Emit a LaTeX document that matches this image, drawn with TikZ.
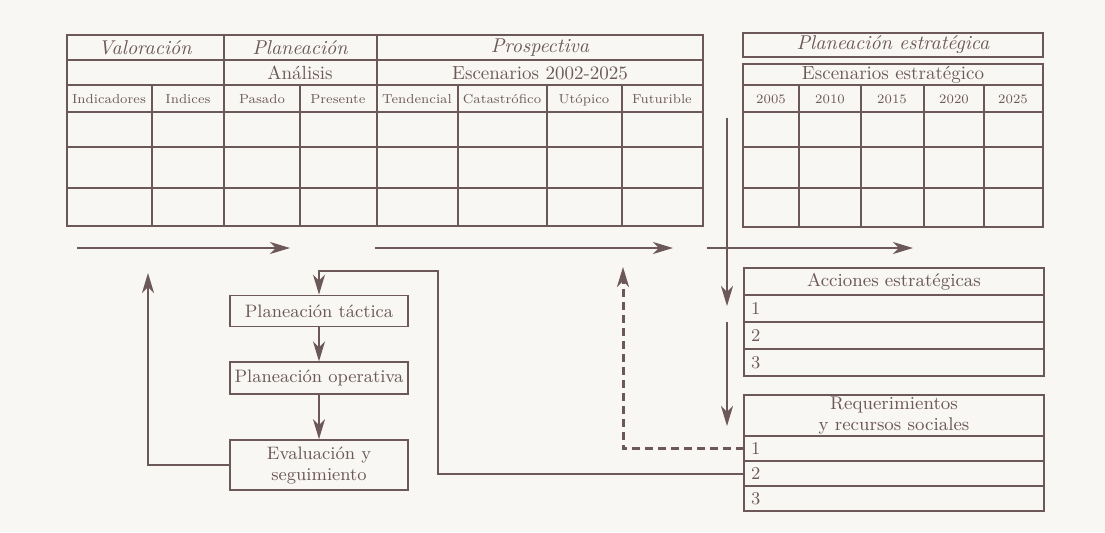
\documentclass[tikz,border=0pt]{standalone}
\usepackage{tikz}
\usetikzlibrary{arrows.meta,positioning}
\definecolor{ink}{RGB}{108,88,88}
\definecolor{paper}{RGB}{248,247,243}

\tikzset{
  head/.style={font=\fontsize{10}{11}\selectfont\itshape, inner sep=0pt},
  sub/.style={font=\fontsize{9.5}{10}\selectfont, inner sep=0pt},
  colhead/.style={font=\fontsize{6.5}{7.5}\selectfont, inner sep=0pt, anchor=base},
  box/.style={draw, minimum width=89pt, align=center, inner sep=1pt,
    font=\fontsize{9}{10.5}\selectfont},
  rowhead/.style={draw, minimum width=150pt, align=center, inner sep=1pt,
    outer sep=0pt, font=\fontsize{9.2}{10.5}\selectfont},
  rowcell/.style={draw, minimum width=150pt, text width=143pt, align=left,
    inner xsep=3pt, inner ysep=0pt, outer sep=0pt, font=\fontsize{9}{10}\selectfont},
  flow/.style={line width=0.8pt, -{Stealth[length=10pt,width=6pt,inset=3pt]}},
  dashline/.style={line width=1.5pt, dash pattern=on 4pt off 2.5pt}
}

\begin{document}
\begin{tikzpicture}[x=0.5pt, y=-0.5pt, line width=0.9pt, color=ink]
  \fill[paper] (0,0) rectangle (1105,532);

  % valoracion, planeacion, prospectiva
  \draw (67,35) rectangle (703,226)
    (67,60) -- (703,60) (67,85) -- (703,85) (67,112) -- (703,112)
    (67,147) -- (703,147) (67,188) -- (703,188)
    (224,35) -- (224,226) (377,35) -- (377,226)
    (152,85) -- (152,226) (300,85) -- (300,226)
    (458,85) -- (458,226) (547,85) -- (547,226) (622,85) -- (622,226);
  \node[head] (valoracion) at (145,48) {Valoración};
  \node[head] (planeacion) at (300,48) {Planeación};
  \node[head] (prospectiva) at (540,48) {Prospectiva};
  \node[sub] (analisis) at (300,73) {Análisis};
  \node[sub] (escenarios) at (540,73) {Escenarios 2002-2025};
  \node[colhead] (indicadores) at (109,103) {Indicadores};
  \node[colhead] (indices) at (188,103) {Indices};
  \node[colhead] (pasado) at (262,103) {Pasado};
  \node[colhead] (presente) at (338,103) {Presente};
  \node[colhead] (tendencial) at (417,103) {Tendencial};
  \node[colhead] (catastrofico) at (502,103) {Catastrófico};
  \node[colhead] (utopico) at (584,103) {Utópico};
  \node[colhead] (futurible) at (662,103) {Futurible};

  % planeacion estrategica
  \draw (743,33) rectangle (1043,57);
  \node[head] (estrategica) at (893,45) {Planeación estratégica};
  \draw (743,64) rectangle (1043,227)
    (743,85) -- (1043,85) (743,112) -- (1043,112)
    (743,147) -- (1043,147) (743,188) -- (1043,188)
    (799,85) -- (799,227) (861,85) -- (861,227)
    (924,85) -- (924,227) (984,85) -- (984,227);
  \node[sub] (escestr) at (893,75) {Escenarios estratégico};
  \node[colhead] (y2005) at (771,103) {2005};
  \node[colhead] (y2010) at (830,103) {2010};
  \node[colhead] (y2015) at (892,103) {2015};
  \node[colhead] (y2020) at (954,103) {2020};
  \node[colhead] (y2025) at (1013,103) {2025};

  % acciones y requerimientos
  \node[rowhead, minimum height=13.5pt, anchor=north west] (acciones) at (744,268) {Acciones estratégicas};
  \node[rowcell, minimum height=13.5pt, below=0pt of acciones] (acc1) {1};
  \node[rowcell, minimum height=13.5pt, below=0pt of acc1] (acc2) {2};
  \node[rowcell, minimum height=13.5pt, below=0pt of acc2] (acc3) {3};
  \node[rowhead, minimum height=20.5pt, anchor=north west] (req) at (744,395) {Requerimientos\\y recursos sociales};
  \node[rowcell, minimum height=12.5pt, below=0pt of req] (req1) {1};
  \node[rowcell, minimum height=12.5pt, below=0pt of req1] (req2) {2};
  \node[rowcell, minimum height=12.5pt, below=0pt of req2] (req3) {3};

  % planeacion tactica y operativa
  \node[box, minimum height=15.5pt] (tactica) at (319,311) {Planeación táctica};
  \node[box, minimum height=16pt, below=17pt of tactica] (operativa) {Planeación operativa};
  \node[box, minimum height=25pt, below=22pt of operativa] (evaluacion) {Evaluación y\\seguimiento};

  \coordinate (s1) at (77,248);  \coordinate (e1) at (290,248);
  \coordinate (s2) at (375,248); \coordinate (e2) at (673,248);
  \coordinate (s3) at (707,248); \coordinate (e3) at (913,248);
  \coordinate (d1) at (727,118); \coordinate (d2) at (727,306);
  \coordinate (d3) at (727,322); \coordinate (d4) at (727,426);
  \coordinate (back) at (148,273);
  \coordinate (loop) at (438,271);
  \coordinate (dash) at (623,267);

  \draw[flow] (s1) -- (e1);
  \draw[flow] (s2) -- (e2);
  \draw[flow] (s3) -- (e3);
  \draw[flow] (d1) -- (d2);
  \draw[flow] (d3) -- (d4);
  \draw[flow] (tactica) -- (operativa);
  \draw[flow] (operativa) -- (evaluacion);
  \draw[flow] (evaluacion.west) -| (back);
  \draw[flow] (req2.west) -| (loop) -| (tactica.north);
  \draw[flow, dashline] (req1.west) -| (dash);
\end{tikzpicture}
\end{document}
